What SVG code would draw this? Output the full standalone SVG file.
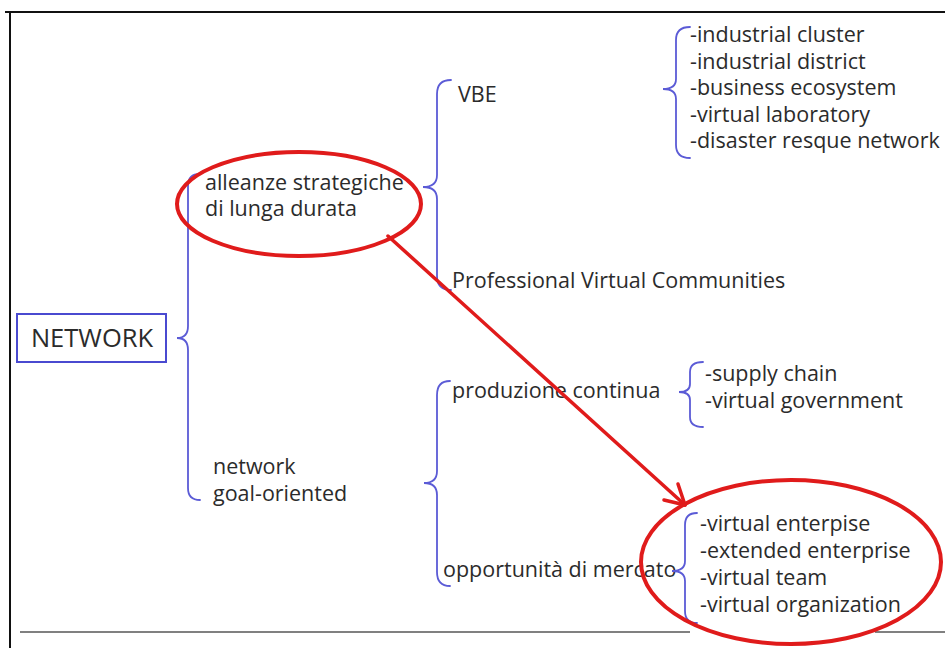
<svg xmlns="http://www.w3.org/2000/svg" width="945" height="648" viewBox="0 0 945 648">
  <style>
    text { font-family: "Open Sans", "Noto Sans", "DejaVu Sans", sans-serif; font-size: 21.5px; fill: #2b2b2b; }
    .brace { fill: none; stroke: #5b5bd6; stroke-width: 1.8; stroke-linecap: round; }
    .ring { fill: none; stroke: #e01b1b; stroke-width: 4; }
    .arrow { fill: none; stroke: #e01b1b; stroke-width: 3.5; stroke-linecap: round; stroke-linejoin: round; }
    .frame { stroke: #111111; stroke-width: 2; }
    .rule { stroke: #808080; stroke-width: 2; }
  </style>
  <rect width="945" height="648" fill="#ffffff"/>

  <!-- page frame -->
  <g id="frame">
    <line class="frame" x1="5" y1="12" x2="945" y2="12"/>
    <line class="frame" x1="10" y1="12" x2="10" y2="648"/>
    <line class="rule" x1="20" y1="632" x2="690" y2="632"/>
    <line class="rule" x1="875" y1="632" x2="945" y2="632"/>
  </g>

  <!-- root -->
  <g id="network">
    <rect x="17" y="314" width="149" height="48" fill="#ffffff" stroke="#4a4ad0" stroke-width="2"/>
    <text x="92" y="347" text-anchor="middle" style="font-size:25.5px">NETWORK</text>
  </g>

  <g id="alleanze">
    <text x="205" y="190">alleanze strategiche</text>
    <text x="205" y="216">di lunga durata</text>
  </g>

  <g id="goal-oriented">
    <text x="213" y="474">network</text>
    <text x="213" y="501">goal-oriented</text>
  </g>

  <g id="vbe">
    <text x="458" y="102">VBE</text>
  </g>

  <g id="pvc">
    <text x="452" y="288">Professional Virtual Communities</text>
  </g>

  <g id="produzione">
    <text x="452" y="398">produzione continua</text>
  </g>

  <g id="mercato">
    <text x="443" y="577">opportunità di mercato</text>
  </g>

  <g id="vbe-list">
    <text x="690" y="42">-industrial cluster</text>
    <text x="690" y="69">-industrial district</text>
    <text x="690" y="95">-business ecosystem</text>
    <text x="690" y="122">-virtual laboratory</text>
    <text x="690" y="148">-disaster resque network</text>
  </g>

  <g id="produzione-list">
    <text x="705" y="381">-supply chain</text>
    <text x="705" y="408">-virtual government</text>
  </g>

  <g id="mercato-list">
    <text x="700" y="531">-virtual enterpise</text>
    <text x="700" y="558">-extended enterprise</text>
    <text x="700" y="585">-virtual team</text>
    <text x="700" y="612">-virtual organization</text>
  </g>

  <!-- connectors: curly braces and the highlight arrow -->
  <g id="connectors">
    <path class="brace" d="M200,174 Q188,174 188,186 L188,326 Q188,338 177,338 Q188,338 188,350 L188,488 Q188,500 200,500"/>
    <path class="brace" d="M451,80 Q437,80 437,94 L437,175 Q437,187 423,187 Q437,187 437,199 L437,276 Q437,290 451,290"/>
    <path class="brace" d="M450,381 Q437,381 437,395 L437,471 Q437,483 424,483 Q437,483 437,495 L437,572 Q437,586 450,586"/>
    <path class="brace" d="M703,362 Q690,362 690,372 L690,384 Q690,392 679,392 Q690,392 690,400 L690,417 Q690,427 703,427"/>
    <path class="brace" d="M697,513 Q685,513 685,525 L685,561 Q685,571 672,571 Q685,571 685,581 L685,611 Q685,623 697,623"/>
    <path class="brace" d="M690,27 Q676,27 676,40 L676,79 Q676,89 663,89 Q676,89 676,99 L676,145 Q676,158 690,158"/>

    <line class="arrow" x1="388" y1="236" x2="685" y2="505"/>
    <polyline class="arrow" points="664,500 685,505 678,484"/>
  </g>

  <!-- highlight rings -->
  <g id="highlights">
    <ellipse class="ring" cx="299" cy="204" rx="122" ry="52"/>
    <ellipse class="ring" cx="791" cy="562" rx="150" ry="82"/>
  </g>
</svg>
